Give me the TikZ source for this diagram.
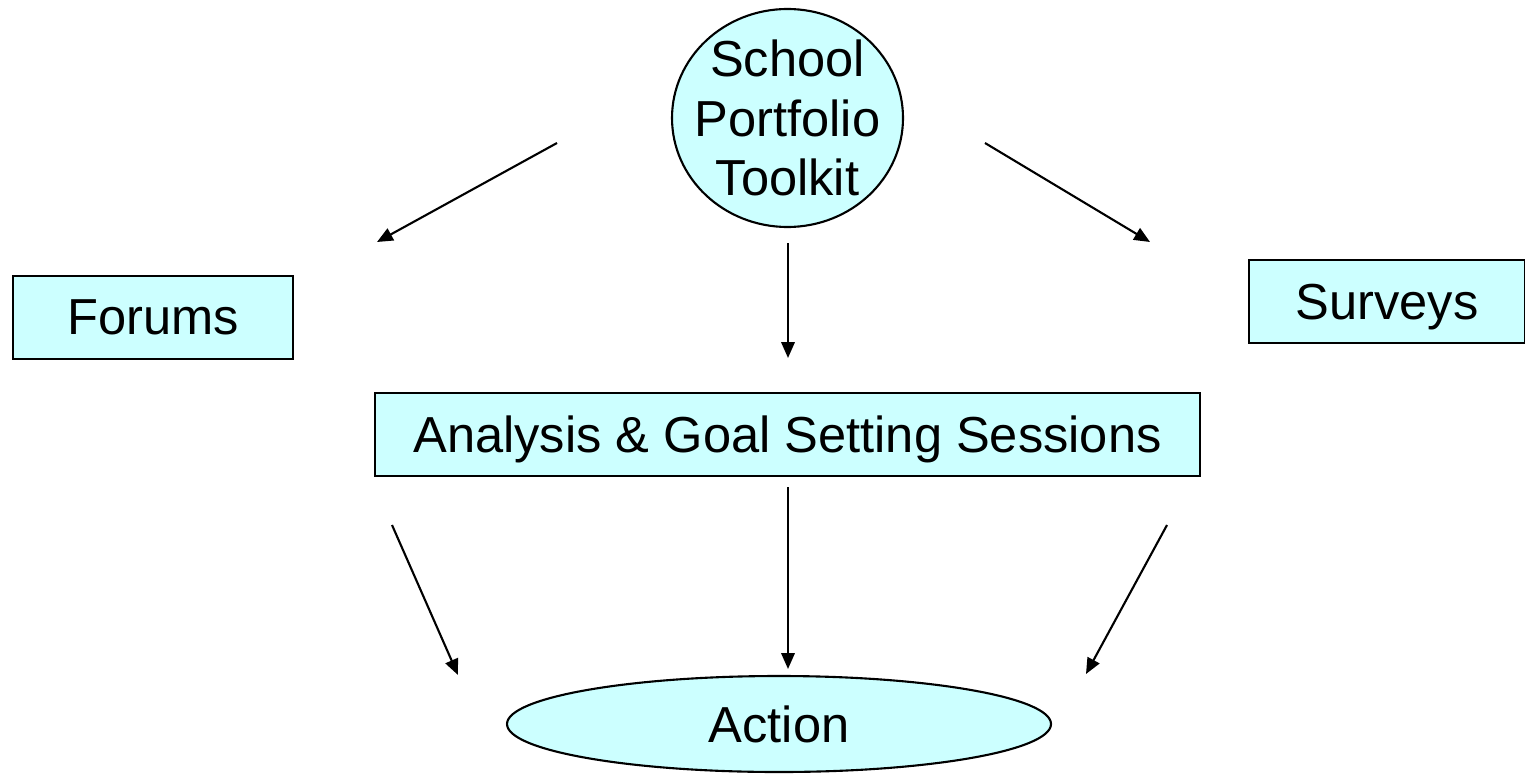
\documentclass[tikz,border=0pt]{standalone}
\usepackage{fontspec}
\setmainfont{Liberation Sans}
\usetikzlibrary{shapes.geometric,arrows.meta}
\definecolor{paleCyan}{HTML}{CCFFFF}
\tikzset{
  box/.style={draw,fill=paleCyan,line width=0.6pt,inner sep=0pt,minimum height=0.83cm,text depth=0pt,font=\fontsize{14.4}{17}\selectfont},
  oval/.style={draw,fill=paleCyan,ellipse,line width=0.6pt,inner sep=-0.2cm,font=\fontsize{14.4}{17}\selectfont},
  arr/.style={line width=0.6pt,-{Triangle[length=4.5pt,width=3.8pt]}}
}
\begin{document}
\begin{tikzpicture}
\useasboundingbox (0,0) rectangle (15.25,7.73);
%nodes
\node[oval,minimum width=2.31cm,minimum height=2.18cm,align=center] (toolkit) at (7.875,6.55) {School\\Portfolio\\Toolkit};
\node[box,minimum width=2.80cm] (forums) at (1.53,4.555) {Forums};
\node[box,minimum width=2.76cm] (surveys) at (13.87,4.715) {Surveys};
\node[box,minimum width=8.25cm] (analysis) at (7.875,3.385) {Analysis \& Goal Setting Sessions};
\node[oval,minimum width=5.44cm,minimum height=0.96cm] (action) at (7.79,0.49) {Action};
%arrow ends
\coordinate (a1s) at (5.57,6.30); \coordinate (a1e) at (3.77,5.31);
\coordinate (a2s) at (9.85,6.30); \coordinate (a2e) at (11.50,5.31);
\coordinate (a3s) at (7.88,5.30); \coordinate (a3e) at (7.88,4.15);
\coordinate (a4s) at (7.88,2.86); \coordinate (a4e) at (7.88,1.04);
\coordinate (a5s) at (3.92,2.48); \coordinate (a5e) at (4.58,0.98);
\coordinate (a6s) at (11.67,2.48); \coordinate (a6e) at (10.86,0.99);
%arrows
\draw[arr] (a1s) -- (a1e);
\draw[arr] (a2s) -- (a2e);
\draw[arr] (a3s) -- (a3e);
\draw[arr] (a4s) -- (a4e);
\draw[arr] (a5s) -- (a5e);
\draw[arr] (a6s) -- (a6e);
\end{tikzpicture}
\end{document}
